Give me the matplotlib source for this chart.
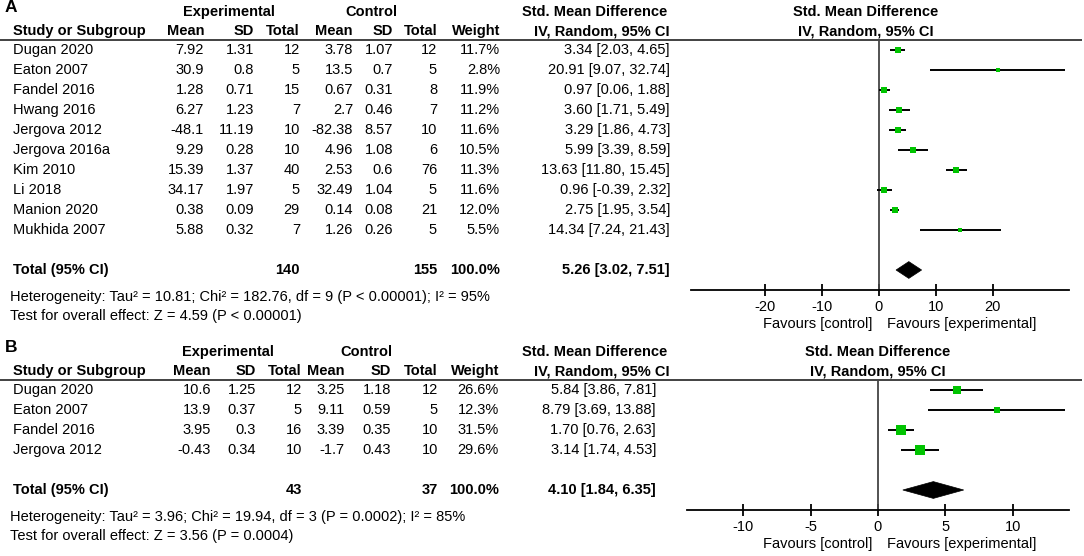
import matplotlib
matplotlib.use("Agg")
import matplotlib.pyplot as plt
from matplotlib.patches import Polygon

plt.rcParams['font.family'] = ['Liberation Sans', 'DejaVu Sans']

# ---------------- data: panel A ----------------
a_studies = ["Dugan 2020", "Eaton 2007", "Fandel 2016", "Hwang 2016", "Jergova 2012",
             "Jergova 2016a", "Kim 2010", "Li 2018", "Manion 2020", "Mukhida 2007"]
a_exp_mean = [7.92, 30.9, 1.28, 6.27, -48.1, 9.29, 15.39, 34.17, 0.38, 5.88]
a_exp_sd = [1.31, 0.8, 0.71, 1.23, 11.19, 0.28, 1.37, 1.97, 0.09, 0.32]
a_exp_n = [12, 5, 15, 7, 10, 10, 40, 5, 29, 7]
a_ctl_mean = [3.78, 13.5, 0.67, 2.7, -82.38, 4.96, 2.53, 32.49, 0.14, 1.26]
a_ctl_sd = [1.07, 0.7, 0.31, 0.46, 8.57, 1.08, 0.6, 1.04, 0.08, 0.26]
a_ctl_n = [12, 5, 8, 7, 10, 6, 76, 5, 21, 5]
a_weight = [11.7, 2.8, 11.9, 11.2, 11.6, 10.5, 11.3, 11.6, 12.0, 5.5]
a_smd = [3.34, 20.91, 0.97, 3.60, 3.29, 5.99, 13.63, 0.96, 2.75, 14.34]
a_lo = [2.03, 9.07, 0.06, 1.71, 1.86, 3.39, 11.80, -0.39, 1.95, 7.24]
a_hi = [4.65, 32.74, 1.88, 5.49, 4.73, 8.59, 15.45, 2.32, 3.54, 21.43]
a_total = {"exp_n": 140, "ctl_n": 155, "weight": 100.0, "smd": 5.26, "lo": 3.02, "hi": 7.51}
a_het = "Heterogeneity: Tau\u00b2 = 10.81; Chi\u00b2 = 182.76, df = 9 (P < 0.00001); I\u00b2 = 95%"
a_test = "Test for overall effect: Z = 4.59 (P < 0.00001)"
a_ticks = [-20, -10, 0, 10, 20]

# ---------------- data: panel B ----------------
b_studies = ["Dugan 2020", "Eaton 2007", "Fandel 2016", "Jergova 2012"]
b_exp_mean = [10.6, 13.9, 3.95, -0.43]
b_exp_sd = [1.25, 0.37, 0.3, 0.34]
b_exp_n = [12, 5, 16, 10]
b_ctl_mean = [3.25, 9.11, 3.39, -1.7]
b_ctl_sd = [1.18, 0.59, 0.35, 0.43]
b_ctl_n = [12, 5, 10, 10]
b_weight = [26.6, 12.3, 31.5, 29.6]
b_smd = [5.84, 8.79, 1.70, 3.14]
b_lo = [3.86, 3.69, 0.76, 1.74]
b_hi = [7.81, 13.88, 2.63, 4.53]
b_total = {"exp_n": 43, "ctl_n": 37, "weight": 100.0, "smd": 4.10, "lo": 1.84, "hi": 6.35}
b_het = "Heterogeneity: Tau\u00b2 = 3.96; Chi\u00b2 = 19.94, df = 3 (P = 0.0002); I\u00b2 = 85%"
b_test = "Test for overall effect: Z = 3.56 (P = 0.0004)"
b_ticks = [-10, -5, 0, 5, 10]

W, H = 1084, 556
fig = plt.figure(figsize=(W / 100, H / 100), dpi=100)
bg = fig.add_axes([0, 0, 1, 1])
bg.set_xlim(0, W)
bg.set_ylim(H, 0)
bg.axis("off")

GREEN = "#00C400"
FS = 10.5


def fmt(v):
    return f"{v:g}"


def panel(letter, y0, studies, em, esd, en, cm, csd, cn, wt, smd, lo, hi, tot,
          het, test, ticks, cols, fs, plot_x, xlim, exp_x, ctl_x, smd_head_x, plot_head_x):
    # y0: y pixel of the first header row
    h1, h2, rule = y0, y0 + 19, y0 + 27.5
    row0 = rule + 10.5
    step = 20
    bg.text(5, y0 - 4, letter, fontsize=12.5, fontweight="bold", ha="left", va="center")
    bg.text(exp_x, h1, "Experimental", fontsize=fs, fontweight="bold",
            ha="center", va="center")
    bg.text(ctl_x, h1, "Control", fontsize=fs, fontweight="bold",
            ha="center", va="center")
    bg.text(smd_head_x[0], h1, "Std. Mean Difference", fontsize=fs, fontweight="bold",
            ha="center", va="center")
    bg.text(plot_head_x, h1, "Std. Mean Difference", fontsize=fs, fontweight="bold",
            ha="center", va="center")
    bg.text(13, h2, "Study or Subgroup", fontsize=fs, fontweight="bold", ha="left", va="center")
    for x, lab in zip(cols[:7], ["Mean", "SD", "Total", "Mean", "SD", "Total", "Weight"]):
        bg.text(x, h2, lab, fontsize=fs, fontweight="bold", ha="right", va="center")
    bg.text(smd_head_x[1], h2, "IV, Random, 95% CI", fontsize=fs, fontweight="bold",
            ha="center", va="center")
    bg.text(plot_head_x, h2, "IV, Random, 95% CI", fontsize=fs, fontweight="bold",
            ha="center", va="center")
    bg.plot([0, 1082], [rule, rule], color="#333333", lw=1.3, solid_capstyle="butt")

    n = len(studies)
    for i in range(n):
        y = row0 + i * step
        bg.text(13, y, studies[i], fontsize=fs, ha="left", va="center")
        vals = [fmt(em[i]), fmt(esd[i]), str(en[i]), fmt(cm[i]), fmt(csd[i]), str(cn[i]),
                f"{wt[i]:.1f}%", f"{smd[i]:.2f} [{lo[i]:.2f}, {hi[i]:.2f}]"]
        for x, v in zip(cols, vals):
            bg.text(x, y, v, fontsize=fs, ha="right", va="center")
    yt = row0 + (n + 1) * step
    bg.text(13, yt, "Total (95% CI)", fontsize=fs, fontweight="bold", ha="left", va="center")
    bg.text(cols[2], yt, str(tot["exp_n"]), fontsize=fs, fontweight="bold", ha="right", va="center")
    bg.text(cols[5], yt, str(tot["ctl_n"]), fontsize=fs, fontweight="bold", ha="right", va="center")
    bg.text(cols[6], yt, f"{tot['weight']:.1f}%", fontsize=fs, fontweight="bold", ha="right",
            va="center")
    bg.text(cols[7], yt, f"{tot['smd']:.2f} [{tot['lo']:.2f}, {tot['hi']:.2f}]", fontsize=fs,
            fontweight="bold", ha="right", va="center")
    bg.text(10, yt + 27, het, fontsize=fs, ha="left", va="center")
    bg.text(10, yt + 46, test, fontsize=fs, ha="left", va="center")

    # forest axes
    ax_bottom_px = yt + 20
    left, right = plot_x
    ax = fig.add_axes([left / W, 1 - ax_bottom_px / H, (right - left) / W,
                       (ax_bottom_px - rule) / H])
    ax.set_xlim(*xlim)
    ax.set_ylim((ax_bottom_px - row0) / step, (rule - row0) / step)
    ax.patch.set_alpha(0)
    for s in ["top", "left", "right"]:
        ax.spines[s].set_visible(False)
    ax.spines["bottom"].set_linewidth(1.3)
    ax.set_yticks([])
    ax.set_xticks(ticks)
    ax.set_xticklabels([str(t) for t in ticks], fontsize=fs)
    ax.tick_params(axis="x", direction="inout", length=9, width=1.3, pad=3)
    ax.axvline(0, color="#444444", lw=1.3)
    for i in range(n):
        ax.plot([lo[i], hi[i]], [i, i], color="black", lw=1.4, solid_capstyle="butt", zorder=2)
        side_px = 2.8 + 0.22 * wt[i]
        ax.plot([smd[i]], [i], marker="s", color=GREEN, markersize=side_px * 0.72,
                markeredgewidth=0, zorder=3)
    dh = 0.42
    ax.add_patch(Polygon([(tot["lo"], n + 1), (tot["smd"], n + 1 - dh),
                          (tot["hi"], n + 1), (tot["smd"], n + 1 + dh)],
                         closed=True, facecolor="black", edgecolor="black", lw=0.5))
    fy = ax_bottom_px + 34
    bg.text(872, fy, "Favours [control]", fontsize=fs, ha="right", va="center")
    bg.text(887, fy, "Favours [experimental]", fontsize=fs, ha="left", va="center")


panel("A", 12, a_studies, a_exp_mean, a_exp_sd, a_exp_n, a_ctl_mean, a_ctl_sd, a_ctl_n,
      a_weight, a_smd, a_lo, a_hi, a_total, a_het, a_test, a_ticks,
      cols=[204, 254, 300, 353, 393, 437, 500, 670], fs=FS,
      plot_x=(691, 1069), xlim=(-33.0, 33.4), exp_x=229, ctl_x=371,
      smd_head_x=(595, 602), plot_head_x=866)

panel("B", 352, b_studies, b_exp_mean, b_exp_sd, b_exp_n, b_ctl_mean, b_ctl_sd, b_ctl_n,
      b_weight, b_smd, b_lo, b_hi, b_total, b_het, b_test, b_ticks,
      cols=[211, 256, 302, 345, 391, 438, 499, 656], fs=FS,
      plot_x=(687, 1069), xlim=(-14.15, 14.15), exp_x=228, ctl_x=366,
      smd_head_x=(595, 602), plot_head_x=878)

fig.savefig("out.png", dpi=100)
